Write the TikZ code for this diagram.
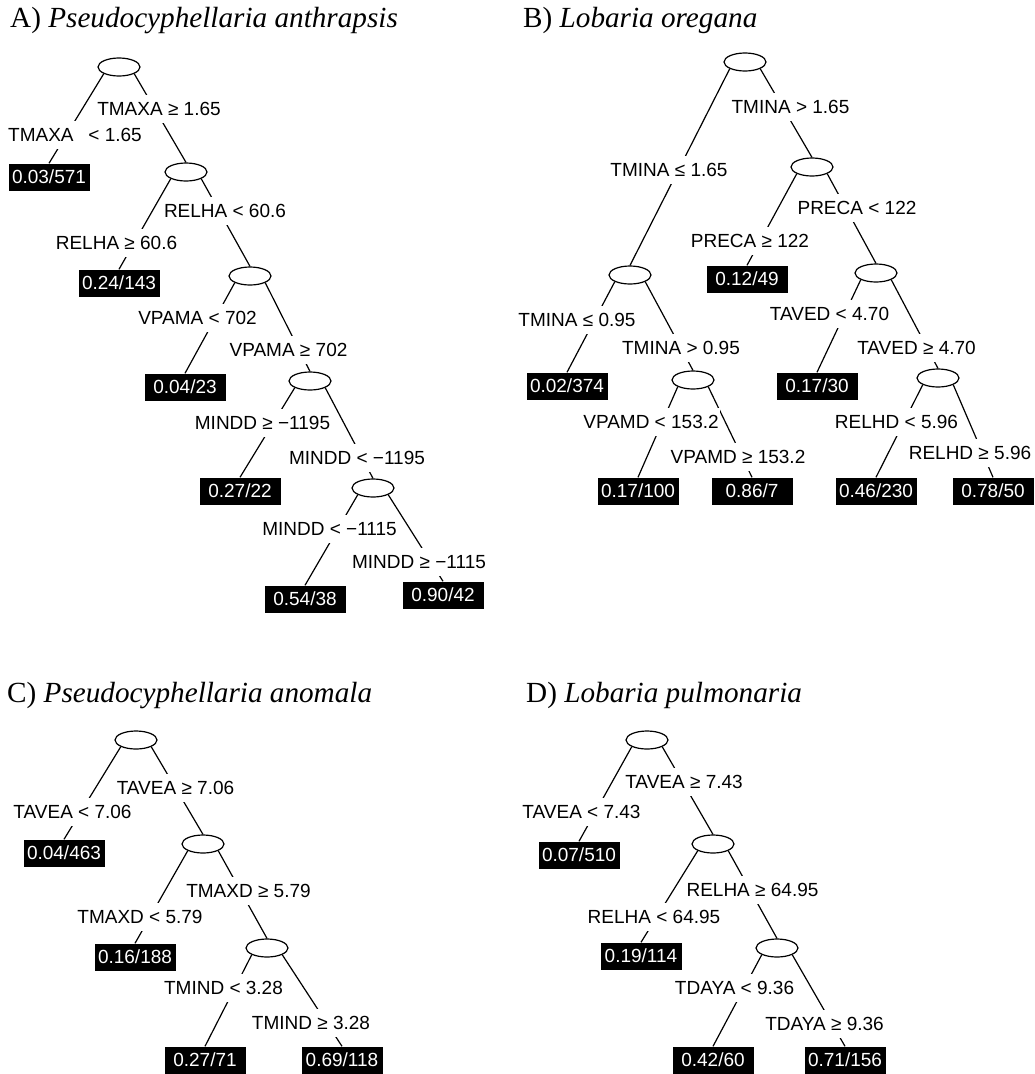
\documentclass[tikz,border=0pt]{standalone}
\usepackage{fontspec}
\setmainfont{Liberation Sans}
\newfontfamily\titlefont{Liberation Serif}
\usetikzlibrary{shapes.geometric}
\tikzset{
  split/.style={ellipse, draw, line width=1.2pt, fill=white, minimum width=42pt, minimum height=18pt, inner sep=0pt},
  leaf/.style={fill=black, text=white, minimum width=81pt, minimum height=27pt, inner sep=0pt, text height=13.6pt, text depth=0pt, font=\fontsize{19}{22}\selectfont},
  cond/.style={fill=white, inner xsep=1.5pt, inner ysep=7pt, text height=13.6pt, text depth=0pt, font=\fontsize{19}{22}\selectfont},
  edge/.style={line width=1.2pt},
  ttl/.style={anchor=base west, inner sep=0pt, font=\titlefont\fontsize{29.2}{33}\selectfont},
}
\begin{document}
\begin{tikzpicture}[x=1pt,y=-1pt]
\useasboundingbox (0,0) rectangle (1035,1074);
\fill[white] (0,0) rectangle (1035,1074);

% ---------- titles ----------
\node[ttl] (tA) at (10,27) {A) \textit{Pseudocyphellaria anthrapsis}};
\node[ttl] (tB) at (523,27) {B) \textit{Lobaria oregana}};
\node[ttl] (tC) at (7,702) {C) \textit{Pseudocyphellaria anomala}};
\node[ttl] (tD) at (526,702) {D) \textit{Lobaria pulmonaria}};

% ---------- panel A ----------
\node[split] (A0) at (119,67) {};
\node[split] (A1) at (186,172) {};
\node[split] (A2) at (250,276) {};
\node[split] (A3) at (310,381) {};
\node[split] (A4) at (373,488) {};
\node[leaf] (a1) at (49,177) {0.03/571};
\node[leaf] (a2) at (119,283) {0.24/143};
\node[leaf] (a3) at (185,387) {0.04/23};
\node[leaf] (a4) at (240,491) {0.27/22};
\node[leaf] (a5) at (305,599) {0.54/38};
\node[leaf] (a6) at (443,595) {0.90/42};
\draw[edge] (A0.south west) -- (a1.north);
\draw[edge] (A0.south east) -- (A1.north);
\draw[edge] (A1.south west) -- (a2.north);
\draw[edge] (A1.south east) -- (A2.north);
\draw[edge] (A2.south west) -- (a3.north);
\draw[edge] (A2.south east) -- (A3.north);
\draw[edge] (A3.south west) -- (a4.north);
\draw[edge] (A3.south east) -- (A4.north);
\draw[edge] (A4.south west) -- (a5.north);
\draw[edge] (A4.south east) -- (a6.north);
\node[cond] (la1) at (75,135) {TMAXA\hspace{0.5em} < 1.65};
\node[cond] (la2) at (159,109) {TMAXA ≥ 1.65};
\node[cond] (la3) at (116.5,243) {RELHA ≥ 60.6};
\node[cond] (la4) at (225,211) {RELHA < 60.6};
\node[cond] (la5) at (197.5,318) {VPAMA < 702};
\node[cond] (la6) at (288.5,350) {VPAMA ≥ 702};
\node[cond] (la7) at (262.5,423) {MINDD ≥ −1195};
\node[cond] (la8) at (357,458) {MINDD < −1195};
\node[cond] (la9) at (329.5,529) {MINDD < −1115};
\node[cond] (la10) at (419,562) {MINDD ≥ −1115};

% ---------- panel B ----------
\node[split] (B0) at (745,62) {};
\node[split] (B1) at (630,275) {};
\node[split] (B2) at (812,167) {};
\node[split] (B3) at (876,273) {};
\node[split] (B4) at (693,380) {};
\node[split] (B5) at (938,378) {};
\node[leaf] (b1) at (747,279) {0.12/49};
\node[leaf] (b2) at (567,386) {0.02/374};
\node[leaf] (b3) at (817,386) {0.17/30};
\node[leaf] (b4) at (638,491) {0.17/100};
\node[leaf] (b5) at (752,491) {0.86/7};
\node[leaf] (b6) at (876,491) {0.46/230};
\node[leaf] (b7) at (993,491) {0.78/50};
\draw[edge] (B0.south west) -- (B1.north);
\draw[edge] (B0.south east) -- (B2.north);
\draw[edge] (B2.south west) -- (b1.north);
\draw[edge] (B2.south east) -- (B3.north);
\draw[edge] (B1.south west) -- (b2.north);
\draw[edge] (B1.south east) -- (B4.north);
\draw[edge] (B3.south west) -- (b3.north);
\draw[edge] (B3.south east) -- (B5.north);
\draw[edge] (B4.south west) -- (b4.north);
\draw[edge] (B4.south east) -- (b5.north);
\draw[edge] (B5.south west) -- (b6.north);
\draw[edge] (B5.south east) -- (b7.north);
\node[cond] (lb1) at (669,170) {TMINA ≤ 1.65};
\node[cond] (lb2) at (790.5,107) {TMINA > 1.65};
\node[cond] (lb3) at (750,241) {PRECA ≥ 122};
\node[cond] (lb4) at (857,208) {PRECA < 122};
\node[cond] (lb5) at (577,320) {TMINA ≤ 0.95};
\node[cond] (lb6) at (681,348) {TMINA > 0.95};
\node[cond] (lb7) at (829.5,314) {TAVED < 4.70};
\node[cond] (lb8) at (916.5,348) {TAVED ≥ 4.70};
\node[cond] (lb9) at (651,422) {VPAMD < 153.2};
\node[cond] (lb10) at (738,457) {VPAMD ≥ 153.2};
\node[cond] (lb11) at (896.5,422) {RELHD < 5.96};
\node[cond] (lb12) at (970,453) {RELHD ≥ 5.96};

% ---------- panel C ----------
\node[split] (C0) at (136,740) {};
\node[split] (C1) at (203,844) {};
\node[split] (C2) at (267,948) {};
\node[leaf] (c1) at (64,853) {0.04/463};
\node[leaf] (c2) at (135,957) {0.16/188};
\node[leaf] (c3) at (205,1060) {0.27/71};
\node[leaf] (c4) at (342,1060) {0.69/118};
\draw[edge] (C0.south west) -- (c1.north);
\draw[edge] (C0.south east) -- (C1.north);
\draw[edge] (C1.south west) -- (c2.north);
\draw[edge] (C1.south east) -- (C2.north);
\draw[edge] (C2.south west) -- (c3.north);
\draw[edge] (C2.south east) -- (c4.north);
\node[cond] (lc1) at (72.5,812) {TAVEA < 7.06};
\node[cond] (lc2) at (175.5,788) {TAVEA ≥ 7.06};
\node[cond] (lc3) at (140,917) {TMAXD < 5.79};
\node[cond] (lc4) at (248.5,891) {TMAXD ≥ 5.79};
\node[cond] (lc5) at (223.5,988) {TMIND < 3.28};
\node[cond] (lc6) at (311,1023) {TMIND ≥ 3.28};

% ---------- panel D ----------
\node[split] (D0) at (647,740) {};
\node[split] (D1) at (713,844) {};
\node[split] (D2) at (777,948) {};
\node[leaf] (d1) at (579,855) {0.07/510};
\node[leaf] (d2) at (641,956) {0.19/114};
\node[leaf] (d3) at (713,1060) {0.42/60};
\node[leaf] (d4) at (845,1060) {0.71/156};
\draw[edge] (D0.south west) -- (d1.north);
\draw[edge] (D0.south east) -- (D1.north);
\draw[edge] (D1.south west) -- (d2.north);
\draw[edge] (D1.south east) -- (D2.north);
\draw[edge] (D2.south west) -- (d3.north);
\draw[edge] (D2.south east) -- (d4.north);
\node[cond] (ld1) at (581.5,812) {TAVEA < 7.43};
\node[cond] (ld2) at (684,782) {TAVEA ≥ 7.43};
\node[cond] (ld3) at (654,917) {RELHA < 64.95};
\node[cond] (ld4) at (752.5,890) {RELHA ≥ 64.95};
\node[cond] (ld5) at (734.5,988) {TDAYA < 9.36};
\node[cond] (ld6) at (824.5,1024) {TDAYA ≥ 9.36};
\end{tikzpicture}
\end{document}
